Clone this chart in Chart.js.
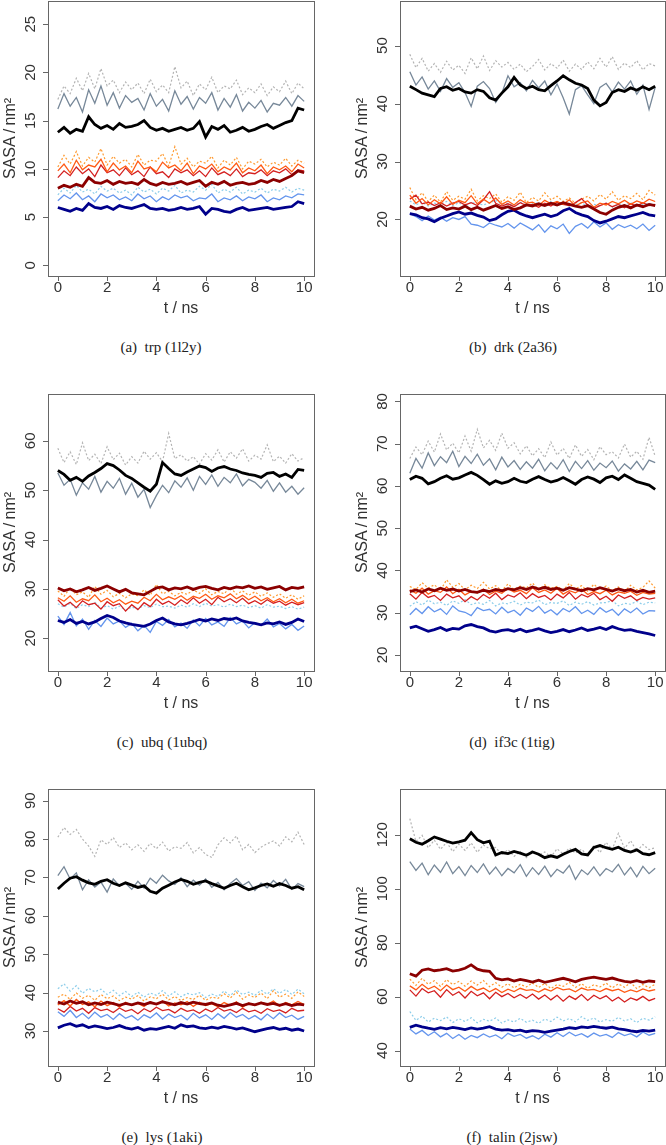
<!DOCTYPE html>
<html>
<head>
<meta charset="utf-8">
<script src="https://cdn.jsdelivr.net/npm/chart.js@4.4.0/dist/chart.umd.min.js"></script>
<style>
body { margin: 0; background: #fff; width: 666px; height: 1145px; position: relative; overflow: hidden; }
canvas { position: absolute; }
.cap { position: absolute; font-family: "Liberation Serif", "Times New Roman", serif; font-size: 15px; line-height: 18px; color: #222; white-space: pre; transform: translateX(-50%); }
</style>
</head>
<body>
<canvas id="pa" width="333" height="320" style="left:0;top:0"></canvas>
<canvas id="pb" width="333" height="320" style="left:333px;top:0"></canvas>
<canvas id="pc" width="333" height="345" style="left:0;top:370px"></canvas>
<canvas id="pd" width="333" height="345" style="left:333px;top:370px"></canvas>
<canvas id="pe" width="333" height="345" style="left:0;top:765px"></canvas>
<canvas id="pf" width="333" height="345" style="left:333px;top:765px"></canvas>
<div class="cap" style="left:161px;top:338px">(a)  trp (1l2y)</div>
<div class="cap" style="left:513px;top:338px">(b)  drk (2a36)</div>
<div class="cap" style="left:162px;top:733px">(c)  ubq (1ubq)</div>
<div class="cap" style="left:512px;top:733px">(d)  if3c (1tig)</div>
<div class="cap" style="left:162px;top:1128px">(e)  lys (1aki)</div>
<div class="cap" style="left:512px;top:1128px">(f)  talin (2jsw)</div>
<script>
// time axis (ns), sampled every 0.25 ns
const times = [0,0.25,0.5,0.75,1,1.25,1.5,1.75,2,2.25,2.5,2.75,3,3.25,3.5,3.75,4,4.25,4.5,4.75,5,5.25,5.5,5.75,6,6.25,6.5,6.75,7,7.25,7.5,7.75,8,8.25,8.5,8.75,9,9.25,9.5,9.75,10];
const xTicks = [0,2,4,6,8,10];

// (a) trp
const trpTicks = [0,5,10,15,20,25];
const trpDotGray = [17.2,18.6,17.8,19.4,18.1,19.9,18.3,20.4,18.6,19.2,17.9,19.0,18.2,18.9,17.8,19.3,18.0,18.7,17.9,20.6,18.4,19.1,17.6,18.8,18.2,19.5,17.9,18.6,18.3,19.2,17.7,18.4,17.9,18.8,17.6,18.5,18.0,19.1,17.8,18.9,18.3];
const trpSlate = [16.2,17.8,16.5,17.4,15.9,18.2,16.8,18.6,16.6,17.9,16.3,17.6,16.9,17.3,16.1,17.8,16.5,17.2,16.0,18.1,16.7,17.5,16.2,17.4,16.8,17.9,16.1,17.3,16.4,17.7,16.0,16.9,16.3,17.1,15.9,16.8,16.6,17.4,16.5,17.6,17.0];
const trpBlack = [13.8,14.3,13.7,14.1,13.9,15.4,14.6,14.2,14.5,14.1,14.7,14.3,14.4,14.6,15.0,14.3,14.0,14.2,13.9,14.1,14.3,14.0,14.2,14.9,13.3,14.4,14.1,14.5,13.8,14.0,14.3,13.9,14.1,14.4,14.6,14.2,14.5,14.8,15.0,16.3,16.1];
const trpDotOrange = [10.2,11.4,10.5,11.8,10.3,11.2,10.7,12.1,10.4,11.3,10.6,11.0,10.2,11.5,10.4,10.9,10.8,11.6,10.3,12.3,10.5,11.1,10.2,10.8,10.6,11.3,10.1,10.9,10.4,11.2,10.0,10.8,10.5,11.0,10.2,10.7,10.4,11.1,10.3,10.9,10.6];
const trpOrangeRed = [9.8,10.5,9.6,10.9,9.9,10.4,10.2,11.0,9.7,10.6,9.9,10.3,9.6,10.8,10.0,10.2,9.7,10.7,10.1,10.4,9.8,10.6,9.5,10.3,10.0,10.5,9.7,10.2,9.9,10.6,9.6,10.1,9.8,10.4,9.5,10.2,9.9,10.3,9.7,10.5,10.1];
const trpRed = [9.1,9.8,9.3,10.2,9.5,10.0,9.2,10.4,9.6,9.9,9.3,10.1,9.4,9.8,9.2,10.2,9.5,9.7,9.1,10.0,9.6,9.9,9.3,9.8,9.2,10.1,9.4,9.7,9.3,10.0,9.2,9.6,9.5,9.9,9.3,9.8,9.6,10.0,9.4,9.9,9.8];
const trpDarkRed = [8.0,8.3,8.1,8.4,8.2,9.1,8.6,8.5,8.8,8.4,8.7,8.5,8.6,8.4,8.9,8.5,8.3,8.6,8.4,8.5,8.7,8.4,8.6,8.8,8.2,8.6,8.4,8.7,8.3,8.5,8.6,8.4,8.5,8.8,8.6,8.9,8.7,9.0,9.3,9.8,9.6];
const trpDotSky = [7.3,8.0,7.5,8.3,7.6,7.9,7.4,8.2,7.7,8.0,7.5,7.8,7.3,8.1,7.6,7.9,7.4,8.0,7.7,8.3,7.5,7.8,7.6,8.2,7.8,8.4,7.5,7.9,7.6,8.1,7.4,7.8,7.6,8.0,7.5,7.9,7.7,8.1,7.6,8.0,7.8];
const trpCorn = [6.7,7.3,6.9,7.5,6.8,7.2,6.6,7.4,7.0,7.3,6.8,7.1,6.7,7.4,6.9,7.2,6.6,7.1,6.8,7.3,7.0,7.2,6.7,7.0,6.9,7.4,6.6,7.0,6.8,7.2,6.7,7.1,6.9,7.3,6.6,7.0,6.8,7.2,7.0,7.4,7.3];
const trpNavy = [6.0,5.8,5.6,5.9,5.7,6.4,6.0,5.9,6.1,5.8,6.2,6.0,5.9,6.1,6.3,5.9,5.8,5.9,5.7,5.8,6.0,5.8,5.9,6.1,5.3,5.9,5.8,5.6,5.5,5.8,6.0,5.7,5.8,5.9,6.0,5.8,5.9,6.0,6.1,6.6,6.4];

// (b) drk
const drkTicks = [20,30,40,50];
const drkDotGray = [48.5,46.2,47.8,45.6,46.9,45.4,47.3,45.8,46.6,45.2,47.9,46.0,48.2,45.7,47.4,46.3,47.1,45.9,46.8,45.5,46.4,47.6,45.8,46.9,46.1,47.5,45.6,46.8,45.9,47.2,46.0,47.8,46.3,48.1,45.9,47.0,46.2,47.4,45.8,46.9,46.5];
const drkSlate = [45.5,43.2,44.6,42.5,43.9,42.1,44.3,42.8,43.6,41.9,39.5,43.0,43.8,42.6,40.2,41.8,44.8,42.9,43.6,42.2,44.0,42.7,43.9,41.5,43.4,41.0,38.2,42.4,43.1,41.5,40.0,42.8,43.5,42.0,43.7,42.5,43.9,41.6,43.2,39.0,42.8];
const drkBlack = [43.0,42.4,41.8,41.5,41.2,42.6,42.9,42.3,42.6,42.0,41.8,42.4,42.1,41.0,40.6,41.8,42.9,44.5,43.2,42.6,43.0,42.4,42.2,43.1,43.9,44.8,44.1,43.5,43.2,42.6,40.6,39.6,40.2,41.9,42.4,42.1,42.7,42.3,42.9,42.4,43.0];
const drkDotOrange = [25.5,23.4,24.6,23.1,24.2,23.0,24.8,23.3,24.0,23.5,25.2,23.2,24.1,23.6,24.4,23.0,23.9,23.3,24.7,22.9,23.8,23.2,24.6,23.4,24.0,23.1,23.7,22.8,23.5,24.0,23.2,24.3,23.5,24.8,23.3,24.1,23.6,24.5,23.4,25.0,24.2];
const drkOrangeRed = [24.2,22.8,23.6,22.5,23.4,22.7,23.9,22.6,23.3,22.9,24.1,22.7,23.5,22.8,23.7,22.6,23.2,22.5,23.4,22.8,23.0,22.4,23.3,22.7,23.1,22.6,23.4,22.3,22.9,23.2,22.1,22.8,22.5,23.1,22.7,23.3,22.6,23.2,22.8,23.5,23.1];
const drkRed = [23.5,24.2,22.7,23.0,22.4,22.9,22.3,22.8,23.1,22.5,22.9,22.4,23.4,24.8,22.8,22.3,22.7,22.2,22.9,22.4,22.6,22.1,22.8,22.3,23.0,22.6,22.4,22.9,23.6,22.5,21.9,22.4,22.8,22.2,22.6,22.0,22.7,22.3,22.9,22.4,22.6];
const drkDarkRed = [22.3,21.8,22.1,21.6,21.9,22.4,21.7,22.0,21.8,22.3,21.7,22.1,21.6,22.0,22.4,21.9,22.2,21.7,22.0,22.5,22.3,22.7,22.4,22.8,22.5,22.9,22.6,22.3,22.1,22.4,21.8,21.2,20.9,21.6,22.1,22.4,22.0,22.5,22.2,22.6,22.4];
const drkDotSky = [23.2,22.5,23.0,22.3,22.8,22.6,23.1,22.4,22.9,22.2,23.0,22.7,22.5,22.9,23.3,22.6,22.8,22.3,23.0,22.5,22.7,22.9,22.4,23.1,22.6,22.8,22.3,22.5,22.9,22.2,22.6,22.4,22.8,22.1,22.7,22.5,22.9,22.3,22.6,22.8,22.5];
const drkCorn = [21.0,20.5,19.8,20.6,19.9,20.4,19.7,20.3,20.0,20.5,19.2,19.0,18.6,19.4,19.0,18.7,19.3,18.5,19.4,18.8,18.2,19.1,17.8,18.9,18.4,19.2,17.6,18.8,19.3,18.5,19.6,18.7,19.4,18.3,19.1,18.6,19.0,18.4,19.2,18.1,19.0];
const drkNavy = [21.0,20.8,20.3,20.1,19.6,20.2,20.6,21.0,21.3,20.9,21.1,20.7,20.4,19.8,20.1,20.8,21.4,21.6,21.0,20.6,20.3,20.6,20.9,20.5,20.8,21.5,21.9,21.2,20.8,20.5,19.8,19.4,19.7,20.1,20.5,20.3,20.6,20.9,21.2,20.8,20.6];

// (c) ubq
const ubqTicks = [20,30,40,50,60];
const ubqDotGray = [58.5,55.6,57.8,55.2,59.6,56.0,57.3,55.4,58.8,56.2,57.5,55.1,56.8,55.5,57.9,56.3,57.6,55.8,61.5,56.4,57.2,55.9,56.8,55.3,57.4,56.1,58.2,55.7,57.8,56.5,58.4,55.9,57.1,56.3,59.2,55.8,56.9,55.5,57.4,55.9,56.6];
const ubqSlate = [53.5,51.0,52.2,49.0,51.5,50.2,52.8,49.6,51.8,50.4,52.4,49.2,51.4,48.6,50.2,46.5,48.9,51.0,49.5,51.9,50.6,52.5,50.0,52.8,51.2,53.1,50.8,52.6,51.5,53.3,50.9,52.2,51.6,50.4,52.0,49.8,51.5,49.6,50.8,49.2,50.5];
const ubqBlack = [54.0,53.2,52.0,52.6,51.8,52.9,53.6,54.4,55.4,55.0,54.1,53.0,52.4,51.5,50.6,49.8,51.2,55.6,54.4,53.3,53.0,53.7,54.3,54.9,54.6,53.8,54.5,54.8,54.3,54.0,53.5,53.2,53.0,52.6,53.4,53.6,52.8,53.3,52.6,54.2,54.0];
const ubqDotOrange = [29.6,28.5,30.2,28.8,29.4,28.3,30.5,28.9,29.7,28.4,29.1,28.2,29.0,28.6,29.8,28.7,30.9,29.0,29.5,28.6,29.3,28.9,29.8,29.1,30.0,28.8,29.5,29.0,30.3,28.9,29.6,28.7,29.4,28.5,29.2,28.3,29.0,28.1,28.8,27.9,28.6];
const ubqOrangeRed = [28.2,27.5,28.6,27.3,28.0,27.6,28.8,27.4,28.1,27.2,27.8,26.9,27.5,27.1,28.3,27.6,28.9,27.8,28.4,27.9,28.6,27.7,28.5,28.1,28.9,27.9,28.6,28.2,29.0,28.0,28.7,27.8,28.5,27.6,28.2,27.4,28.0,27.2,27.9,27.1,27.6];
const ubqRed = [27.8,26.5,27.3,26.2,27.6,26.8,27.1,25.9,27.4,26.6,27.0,25.5,26.8,25.8,27.2,26.4,27.9,26.9,27.5,26.7,27.8,27.0,28.2,27.1,27.9,26.8,28.3,27.4,28.0,27.2,28.1,27.0,27.6,26.9,27.8,27.1,27.5,26.7,27.3,26.8,27.2];
const ubqDarkRed = [30.2,29.6,30.0,29.4,29.8,30.3,29.7,30.1,30.6,30.0,29.4,29.9,29.2,29.0,28.8,29.5,30.2,30.4,29.8,30.2,30.0,30.4,29.9,30.3,30.5,30.1,29.8,30.3,30.0,30.4,30.2,30.6,30.1,30.4,29.9,30.2,30.5,29.8,30.3,30.1,30.4];
const ubqDotSky = [27.0,26.3,27.1,26.0,26.8,26.4,27.3,26.1,26.6,25.9,26.5,25.7,26.3,26.0,26.6,26.2,26.9,26.4,26.5,26.1,26.7,26.3,27.0,26.4,27.1,26.5,26.8,26.3,26.9,26.4,26.7,26.2,26.6,26.1,26.8,26.3,26.5,26.0,26.4,25.9,26.3];
const ubqCorn = [24.5,22.8,25.2,22.5,23.9,21.8,23.6,22.4,24.1,22.9,23.5,22.2,23.0,21.5,22.6,21.2,23.4,22.6,23.8,22.3,23.1,22.0,23.7,22.5,24.0,22.7,23.3,22.4,24.2,22.9,23.5,22.1,23.2,22.6,23.9,22.3,23.0,21.9,22.8,21.6,22.5];
const ubqNavy = [23.6,23.2,23.8,23.0,23.4,22.9,23.3,24.0,24.6,24.2,23.5,23.1,22.8,22.6,22.4,22.9,23.6,24.1,23.3,22.9,22.7,23.0,23.4,23.8,23.5,23.9,23.6,24.0,23.8,24.1,23.5,23.2,23.0,22.7,23.1,22.9,23.3,22.8,23.2,23.9,23.4];

// (d) if3c
const if3cTicks = [20,30,40,50,60,70,80];
const if3cDotGray = [66.5,69.2,67.4,70.6,68.0,72.3,68.5,70.1,67.8,71.8,68.2,73.4,69.0,70.8,68.4,72.5,68.9,70.2,67.6,69.5,67.1,68.8,66.7,70.4,67.3,68.9,66.5,69.7,67.0,68.6,66.2,69.3,67.4,68.1,66.6,69.9,66.8,68.2,66.3,71.5,67.0];
const if3cSlate = [63.0,66.5,64.2,67.8,64.8,66.9,65.5,68.2,64.6,67.0,65.3,67.5,64.9,66.4,63.8,66.8,64.5,66.0,63.9,65.7,64.2,66.3,63.6,65.5,64.0,66.2,63.4,65.8,64.1,66.0,63.7,65.4,64.3,65.9,63.5,65.2,64.0,65.8,63.8,66.1,65.5];
const if3cBlack = [61.5,62.3,61.8,60.5,61.0,61.8,62.4,61.6,61.9,62.6,63.2,62.5,61.5,60.4,61.2,60.6,61.0,61.8,61.1,60.8,61.6,62.2,61.5,60.9,61.3,62.0,61.2,60.4,61.5,62.1,61.6,60.8,61.9,62.3,61.5,62.6,61.8,61.0,60.6,60.2,59.2];
const if3cDotOrange = [36.2,35.5,37.1,35.8,36.6,35.3,37.8,36.0,36.9,35.4,36.5,35.7,37.2,35.6,36.4,35.2,36.8,35.5,36.3,35.9,37.0,35.4,36.6,35.8,36.2,35.3,36.9,35.6,36.4,35.1,36.7,35.5,36.3,35.2,36.1,35.0,36.5,35.4,36.0,37.5,35.8];
const if3cOrangeRed = [35.4,34.6,35.8,34.4,35.2,34.8,36.1,34.5,35.5,34.2,35.0,34.7,35.6,34.3,35.1,34.6,35.7,34.9,35.3,34.5,35.9,34.8,35.4,34.6,35.8,34.4,35.2,34.7,35.6,34.3,35.0,34.5,35.3,34.2,34.9,34.6,35.1,34.1,34.8,34.4,34.6];
const if3cRed = [34.5,33.2,34.8,33.6,34.1,32.9,34.4,33.5,34.0,32.6,33.8,33.0,34.3,33.4,34.6,33.1,34.2,33.7,34.7,33.3,34.5,33.6,34.1,33.0,34.4,33.5,34.8,33.2,34.3,33.7,34.6,33.1,33.9,32.7,34.2,33.4,34.0,32.9,33.6,33.2,33.5];
const if3cDarkRed = [35.0,35.4,34.9,35.6,35.2,35.8,35.3,35.6,35.1,35.5,35.0,34.8,35.3,35.0,35.5,35.2,35.7,35.4,35.9,35.5,36.1,35.6,36.0,35.5,35.8,35.3,35.9,35.6,35.2,35.7,35.4,35.9,35.5,35.1,35.6,35.2,35.5,34.9,35.3,34.8,35.1];
const if3cDotSky = [31.5,32.6,31.8,33.0,32.1,32.5,31.7,32.8,32.2,33.1,31.9,32.4,32.0,32.9,31.6,32.3,32.1,32.7,31.8,32.5,32.3,33.0,31.9,32.4,32.2,32.8,31.7,32.5,32.0,32.6,31.8,32.3,32.4,32.9,31.6,32.2,32.0,32.7,31.9,32.5,32.3];
const if3cCorn = [29.5,31.0,29.8,31.4,30.2,30.9,29.6,31.6,30.4,30.1,29.3,31.2,30.5,30.8,29.7,31.3,30.0,30.6,29.4,31.1,30.3,31.5,29.9,30.7,29.5,31.0,30.2,31.4,29.8,30.6,29.6,31.2,30.1,30.8,29.4,30.9,30.0,31.1,29.7,30.5,30.4];
const if3cNavy = [26.4,26.8,26.2,25.6,26.0,26.5,25.8,26.3,26.1,26.9,27.2,26.7,26.4,25.7,25.4,25.8,26.0,25.6,26.1,25.5,25.8,26.2,25.7,25.3,25.6,26.0,25.5,25.9,26.4,25.8,26.1,26.5,26.0,26.7,26.2,25.8,26.0,25.6,25.3,25.0,24.6];

// (e) lys
const lysTicks = [30,40,50,60,70,80,90];
const lysDotGray = [80.5,83.0,81.2,82.5,80.0,78.2,75.5,79.8,78.6,80.4,77.8,79.0,77.2,78.5,76.8,78.9,77.5,79.2,76.9,78.0,77.6,79.1,76.4,77.8,76.0,75.2,78.5,80.3,79.0,80.8,77.2,78.6,76.5,77.9,78.8,79.5,78.2,80.6,79.3,81.8,78.6];
const lysSlate = [70.5,72.8,69.6,71.2,66.8,69.4,67.5,68.8,66.2,69.6,67.8,68.5,66.9,69.0,67.2,69.8,68.5,70.6,69.1,68.2,69.9,67.6,69.3,68.0,69.6,67.4,68.7,66.8,68.4,69.7,67.9,68.9,66.6,68.5,67.3,69.2,67.8,69.5,66.9,68.4,67.6];
const lysBlack = [67.0,68.5,69.8,70.2,69.3,68.6,68.2,69.0,69.4,68.5,67.9,68.6,68.0,67.4,67.8,66.4,65.9,67.2,68.0,68.8,69.5,69.0,68.2,68.7,69.1,68.4,67.8,67.2,67.9,68.5,67.6,66.8,67.3,67.9,68.3,67.7,68.4,67.9,67.2,67.6,66.8];
const lysDotOrange = [38.8,39.6,38.2,39.9,38.5,39.3,38.0,39.5,38.4,39.1,37.9,38.8,38.3,39.2,37.8,38.9,38.4,39.6,38.1,39.0,37.9,38.7,38.2,39.3,38.0,38.8,38.5,39.7,38.6,40.1,38.3,39.4,38.7,39.9,38.4,40.5,38.8,39.6,38.5,40.2,39.0];
const lysOrangeRed = [36.8,37.9,36.5,38.2,36.9,37.6,36.3,37.8,36.6,37.4,36.2,37.5,36.7,37.2,36.4,37.6,36.9,37.8,36.5,37.3,36.8,37.7,36.4,37.5,36.6,37.1,36.3,37.4,36.7,37.6,36.2,37.3,36.6,37.5,36.9,37.8,36.5,37.4,36.8,37.7,36.9];
const lysRed = [35.8,34.9,36.4,35.2,35.9,34.6,36.1,35.3,35.7,34.8,36.0,35.1,35.6,34.5,35.8,35.0,36.2,35.3,35.6,34.7,35.9,35.1,35.5,34.6,35.7,35.0,36.1,35.2,35.6,34.8,35.9,35.0,35.4,34.6,35.8,35.1,35.5,34.7,35.9,35.2,35.4];
const lysDarkRed = [37.5,37.0,37.8,37.2,37.6,36.8,37.3,36.9,37.5,37.1,36.7,37.2,36.8,37.3,36.9,37.4,37.0,37.6,37.2,36.8,37.4,37.0,37.5,37.1,36.9,37.3,36.7,36.4,36.8,37.2,36.6,37.1,36.8,37.3,36.9,37.2,36.7,37.1,36.6,37.0,36.8];
const lysDotSky = [41.0,42.3,40.4,41.8,39.8,41.1,40.2,40.9,39.5,40.6,39.2,40.3,39.0,40.1,38.8,39.9,39.3,40.5,39.1,40.2,38.9,39.8,39.4,40.0,38.7,39.6,39.0,40.4,39.2,40.7,39.5,40.1,39.3,40.6,39.6,41.0,39.8,40.8,39.5,40.9,39.7];
const lysCorn = [35.0,33.8,35.4,33.5,34.6,33.2,34.9,33.6,34.3,33.0,34.5,33.3,34.0,32.8,34.2,33.4,34.7,33.1,34.4,33.5,34.1,32.9,34.6,33.4,34.2,33.0,34.5,33.3,34.8,33.6,34.3,33.1,34.0,32.9,34.4,33.2,34.7,33.5,34.1,33.0,33.8];
const lysNavy = [30.8,31.5,31.9,31.2,31.6,30.9,31.3,31.0,30.6,30.9,31.4,30.8,30.5,30.9,30.2,30.6,30.4,30.8,31.2,30.7,31.6,31.1,31.3,30.8,30.6,31.0,30.7,31.2,30.9,30.5,30.8,30.3,29.8,30.2,30.6,30.9,30.4,30.7,30.2,30.5,30.0];

// (f) talin
const talinTicks = [40,60,80,100,120];
const talinDotGray = [126.0,117.5,119.8,115.2,118.0,114.6,117.2,113.8,116.5,114.2,117.0,113.5,116.2,114.8,115.3,112.6,114.5,112.0,113.8,111.5,114.2,112.4,113.6,111.8,114.8,112.9,115.0,113.2,114.6,112.5,116.0,113.4,117.2,114.6,120.5,115.0,117.8,113.9,116.4,114.5,115.2];
const talinSlate = [110.0,106.8,109.5,105.2,108.8,106.1,109.9,105.6,108.2,104.9,108.6,106.0,109.2,105.4,108.0,104.8,107.5,105.9,108.9,104.6,107.8,105.3,108.4,104.5,107.2,105.8,108.6,103.5,107.0,105.2,108.1,104.8,107.5,106.2,109.0,105.1,107.9,104.4,108.3,105.6,107.6];
const talinBlack = [118.5,117.2,116.5,117.8,119.2,118.4,117.6,116.9,117.4,118.0,120.8,118.2,117.0,117.6,112.5,113.4,113.0,113.8,113.2,112.4,113.6,112.8,111.5,112.2,111.6,112.8,113.8,114.6,112.9,112.5,115.3,116.0,115.2,114.6,115.4,114.2,113.6,114.4,113.0,112.6,113.4];
const talinDotOrange = [66.5,64.2,66.8,64.6,65.9,63.8,66.3,64.5,65.6,63.9,65.8,64.3,66.0,63.7,65.2,63.5,64.8,63.2,64.6,63.6,65.1,63.4,64.9,63.0,64.5,63.8,65.3,63.4,64.8,63.1,64.4,63.6,65.0,63.3,64.7,63.5,65.2,63.0,64.5,63.3,64.6];
const talinOrangeRed = [64.0,62.5,64.6,62.8,63.9,62.2,64.3,62.6,63.5,62.0,63.8,62.4,63.2,61.8,63.0,61.5,62.8,61.9,63.1,62.3,62.6,61.7,62.9,62.1,63.4,62.5,62.9,61.8,63.2,62.4,62.7,61.9,63.0,62.2,62.8,61.6,62.5,61.8,62.9,62.1,62.6];
const talinRed = [62.5,60.2,63.0,61.4,62.2,59.8,62.6,60.5,61.8,59.5,62.0,60.3,61.4,59.2,61.6,60.0,61.2,59.6,60.8,59.4,61.0,59.1,60.6,58.8,60.5,58.3,60.2,59.0,60.8,58.6,60.5,59.2,60.3,58.4,59.8,58.0,59.5,58.7,60.1,58.5,59.4];
const talinDarkRed = [68.5,67.6,69.8,70.3,69.6,69.9,70.4,69.5,69.8,70.5,71.8,70.2,69.6,69.4,66.8,66.2,66.6,65.8,66.4,65.9,65.4,66.1,65.3,65.8,66.3,66.8,66.2,65.5,66.4,66.9,67.2,66.8,66.4,66.9,66.2,65.7,65.4,65.9,65.3,65.8,65.6];
const talinDotSky = [54.5,51.2,52.8,50.6,52.0,51.1,52.5,50.4,51.8,50.8,52.2,50.3,51.6,50.9,52.1,50.2,51.4,50.6,52.0,50.5,51.3,50.1,51.7,50.8,52.4,51.0,51.9,50.7,52.6,51.2,52.1,50.6,51.5,50.9,52.3,51.0,51.8,50.4,52.0,51.3,52.5];
const talinCorn = [48.0,46.2,47.5,45.6,47.0,45.1,46.4,44.5,46.0,44.2,45.6,44.8,46.2,45.0,45.8,44.4,46.4,45.3,46.0,44.6,45.5,44.3,46.1,45.0,46.6,45.2,46.8,45.5,46.3,45.0,46.5,45.4,46.0,44.9,46.7,45.6,46.3,45.1,46.9,45.7,46.4];
const talinNavy = [48.6,49.4,48.8,48.3,47.9,48.5,48.1,48.6,48.2,47.8,48.4,48.0,48.3,48.9,48.0,47.6,47.8,47.3,47.6,47.0,47.4,47.2,46.8,47.2,47.6,48.0,48.5,48.2,48.8,48.5,49.0,48.6,48.3,48.7,48.1,47.8,47.3,47.0,47.5,47.2,47.6];

// line styles, thick lines drawn on top
const styles = {
  black:     { color: '#000000', width: 2.8, dash: [],     order: 0 },
  darkRed:   { color: '#8b0000', width: 2.8, dash: [],     order: 0 },
  navy:      { color: '#00008b', width: 2.8, dash: [],     order: 0 },
  slate:     { color: '#778899', width: 1.3, dash: [],     order: 1 },
  orangeRed: { color: '#ff5a14', width: 1.3, dash: [],     order: 1 },
  red:       { color: '#d42020', width: 1.3, dash: [],     order: 1 },
  corn:      { color: '#6495ed', width: 1.3, dash: [],     order: 1 },
  dotGray:   { color: '#b4b4b4', width: 1.2, dash: [2, 2], order: 2 },
  dotOrange: { color: '#ff9a30', width: 1.2, dash: [2, 2], order: 2 },
  dotSky:    { color: '#8ccdea', width: 1.2, dash: [2, 2], order: 2 }
};

const panels = [
  { id: 'pa', pad: { left: 48, right: 19, top: 1, bottom: 44 }, yMin: -1.1, yMax: 27.4, yTicks: trpTicks,
    series: { black: trpBlack, darkRed: trpDarkRed, navy: trpNavy, slate: trpSlate, orangeRed: trpOrangeRed, red: trpRed, corn: trpCorn, dotGray: trpDotGray, dotOrange: trpDotOrange, dotSky: trpDotSky } },
  { id: 'pb', pad: { left: 67, right: 1, top: 1, bottom: 44 }, yMin: 10.24, yMax: 57.7, yTicks: drkTicks,
    series: { black: drkBlack, darkRed: drkDarkRed, navy: drkNavy, slate: drkSlate, orangeRed: drkOrangeRed, red: drkRed, corn: drkCorn, dotGray: drkDotGray, dotOrange: drkDotOrange, dotSky: drkDotSky } },
  { id: 'pc', pad: { left: 48, right: 19, top: 24, bottom: 44 }, yMin: 13.36, yMax: 69.5, yTicks: ubqTicks,
    series: { black: ubqBlack, darkRed: ubqDarkRed, navy: ubqNavy, slate: ubqSlate, orangeRed: ubqOrangeRed, red: ubqRed, corn: ubqCorn, dotGray: ubqDotGray, dotOrange: ubqDotOrange, dotSky: ubqDotSky } },
  { id: 'pd', pad: { left: 67, right: 1, top: 24, bottom: 44 }, yMin: 16.2, yMax: 81.75, yTicks: if3cTicks,
    series: { black: if3cBlack, darkRed: if3cDarkRed, navy: if3cNavy, slate: if3cSlate, orangeRed: if3cOrangeRed, red: if3cRed, corn: if3cCorn, dotGray: if3cDotGray, dotOrange: if3cDotOrange, dotSky: if3cDotSky } },
  { id: 'pe', pad: { left: 48, right: 19, top: 24, bottom: 44 }, yMin: 20.87, yMax: 93.05, yTicks: lysTicks,
    series: { black: lysBlack, darkRed: lysDarkRed, navy: lysNavy, slate: lysSlate, orangeRed: lysOrangeRed, red: lysRed, corn: lysCorn, dotGray: lysDotGray, dotOrange: lysDotOrange, dotSky: lysDotSky } },
  { id: 'pf', pad: { left: 67, right: 1, top: 24, bottom: 44 }, yMin: 34.3, yMax: 136.96, yTicks: talinTicks,
    series: { black: talinBlack, darkRed: talinDarkRed, navy: talinNavy, slate: talinSlate, orangeRed: talinOrangeRed, red: talinRed, corn: talinCorn, dotGray: talinDotGray, dotOrange: talinDotOrange, dotSky: talinDotSky } }
];

// R-style box, outside ticks, rotated y labels
function makeFrame(yTicks) {
  return {
    id: 'frame',
    afterDraw(chart) {
      const ctx = chart.ctx;
      const a = chart.chartArea;
      const x = chart.scales.x, y = chart.scales.y;
      ctx.save();
      ctx.strokeStyle = '#666';
      ctx.lineWidth = 1;
      ctx.strokeRect(Math.round(a.left) + 0.5, Math.round(a.top) + 0.5, Math.round(a.right - a.left), Math.round(a.bottom - a.top));
      ctx.beginPath();
      xTicks.forEach(v => {
        const px = Math.round(x.getPixelForValue(v)) + 0.5;
        ctx.moveTo(px, a.bottom);
        ctx.lineTo(px, a.bottom + 5);
      });
      yTicks.forEach(v => {
        const py = Math.round(y.getPixelForValue(v)) + 0.5;
        ctx.moveTo(a.left, py);
        ctx.lineTo(a.left - 5, py);
      });
      ctx.stroke();
      ctx.fillStyle = '#333';
      ctx.font = '15px "Liberation Sans", Arial, sans-serif';
      ctx.textAlign = 'center';
      ctx.textBaseline = 'middle';
      xTicks.forEach(v => ctx.fillText(String(v), x.getPixelForValue(v), a.bottom + 12));
      ctx.font = '16px "Liberation Sans", Arial, sans-serif';
      ctx.fillText('t / ns', (a.left + a.right) / 2, a.bottom + 33);
      ctx.font = '15px "Liberation Sans", Arial, sans-serif';
      yTicks.forEach(v => {
        ctx.save();
        ctx.translate(a.left - 17, y.getPixelForValue(v));
        ctx.rotate(-Math.PI / 2);
        ctx.fillText(String(v), 0, 0);
        ctx.restore();
      });
      ctx.font = '16px "Liberation Sans", Arial, sans-serif';
      ctx.translate(a.left - 37, (a.top + a.bottom) / 2);
      ctx.rotate(-Math.PI / 2);
      ctx.fillText('SASA\u2009/\u2009nm\u00b2', 0, 0);
      ctx.restore();
    }
  };
}

const order = ['black', 'darkRed', 'navy', 'slate', 'orangeRed', 'red', 'corn', 'dotGray', 'dotOrange', 'dotSky'];

panels.forEach(p => {
  new Chart(document.getElementById(p.id), {
    type: 'line',
    data: {
      datasets: order.map(k => ({
        data: times.map((t, i) => ({ x: t, y: p.series[k][i] })),
        borderColor: styles[k].color,
        borderWidth: styles[k].width,
        borderDash: styles[k].dash,
        order: styles[k].order,
        pointRadius: 0,
        tension: 0,
        fill: false
      }))
    },
    options: {
      responsive: false,
      animation: false,
      devicePixelRatio: 1,
      layout: { padding: p.pad },
      plugins: { legend: { display: false }, tooltip: { enabled: false } },
      scales: {
        x: { type: 'linear', display: false, min: -0.4, max: 10.4 },
        y: { type: 'linear', display: false, min: p.yMin, max: p.yMax }
      }
    },
    plugins: [makeFrame(p.yTicks)]
  });
});
</script>
</body>
</html>
